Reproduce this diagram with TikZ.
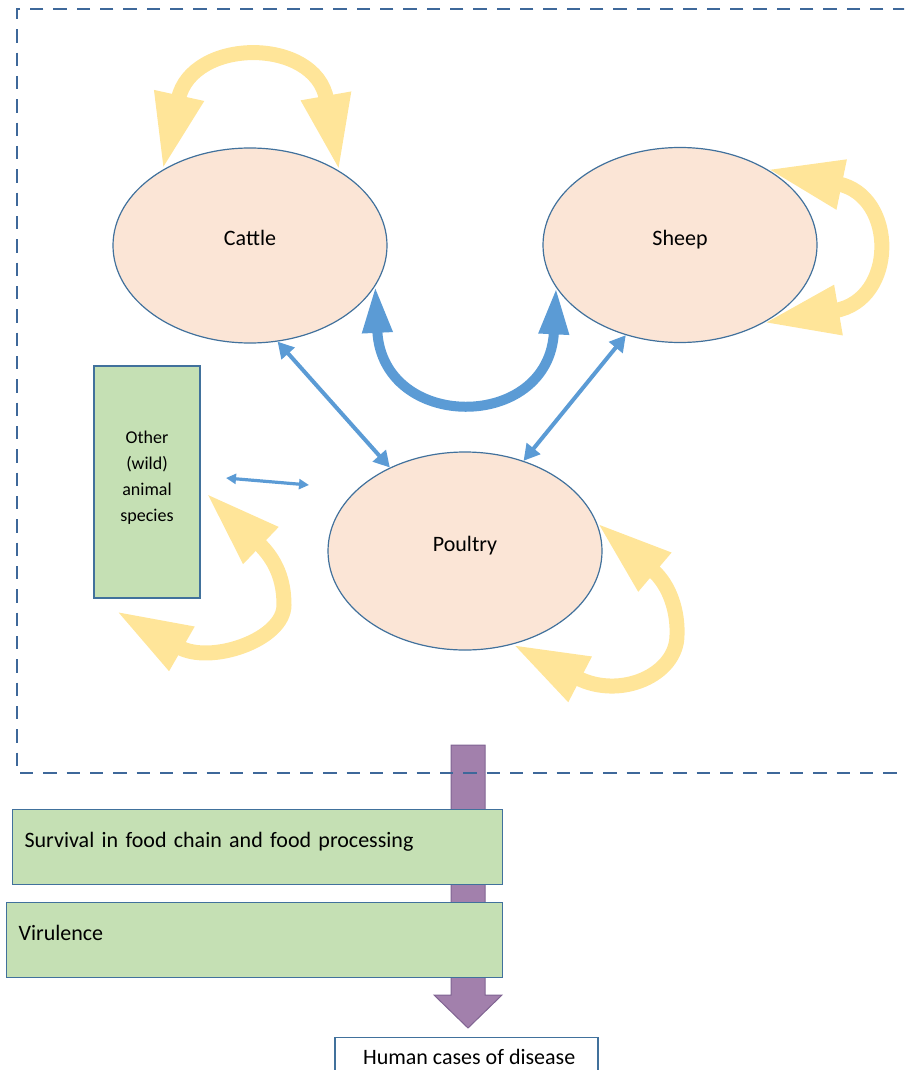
\documentclass[tikz,border=0pt]{standalone}
\usepackage{fontspec}
\setmainfont{Carlito}
\usepackage{xcolor}
\usepackage{tikz}
\usetikzlibrary{shapes, arrows.meta}

\definecolor{shapeblue}{RGB}{65,113,156}
\definecolor{peach}{RGB}{251,229,214}
\definecolor{leafgreen}{RGB}{197,224,180}
\definecolor{goldline}{RGB}{255,229,153}
\definecolor{skyblue}{RGB}{91,155,213}
\definecolor{plum}{RGB}{162,128,172}
\definecolor{plumedge}{RGB}{128,100,146}
\definecolor{boxdash}{RGB}{62,104,154}

\begin{document}
\begin{tikzpicture}[x=0.75pt,y=0.75pt,yscale=-1,xscale=1,
  animal/.style={ellipse, draw=shapeblue, line width=0.9pt, fill=peach, minimum width=205.5pt, minimum height=146.25pt, text height=0.8em, text depth=0.8em, font=\fontsize{16.5}{20}\selectfont},
  factor/.style={rectangle, draw=shapeblue, line width=0.9pt, fill=leafgreen, anchor=north west, inner xsep=9pt, inner ysep=0pt, text height=28.5pt, text depth=27.75pt, align=left, font=\fontsize{16.5}{20}\selectfont},
  loopflow/.style={goldline, line width=11.25pt, {Triangle[width=35pt,length=57pt]}-{Triangle[width=35pt,length=57pt]}},
  crossflow/.style={skyblue, line width=7.5pt, {Triangle[width=21pt,length=35pt]}-{Triangle[width=21pt,length=35pt]}},
  linkflow/.style={skyblue, line width=3pt, {Triangle[width=12.75pt,length=12pt]}-{Triangle[width=12.75pt,length=12pt]}},
  shortflow/.style={skyblue, line width=2.4pt, {Triangle[width=7.5pt,length=7.5pt]}-{Triangle[width=7.5pt,length=7.5pt]}}
]
\path[use as bounding box] (0,0) rectangle (904,1070);
\clip (0,0) rectangle (904,1070);

%Shape: Down Arrow
\draw[draw=plumedge, fill=plum, line width=0.75pt] (451,745) -- (485,745) -- (485,995) -- (502,995) -- (468,1028) -- (434,995) -- (451,995) -- cycle ;

%Shape: Rectangle (dashed frame)
\draw[boxdash, line width=2.2pt, dash pattern=on 10pt off 7.5pt] (930,9) -- (17,9) -- (17,773) -- (930,773) ;

%Shape: Ellipse
\node[animal] (cattle) at (250,245.5) {Cattle};
%Shape: Ellipse
\node[animal] (sheep) at (680,245) {Sheep};
%Shape: Ellipse
\node[animal, minimum height=148.5pt] (poultry) at (465,551) {Poultry};

%Shape: Rectangle
\node[rectangle, draw=shapeblue, line width=0.9pt, fill=leafgreen, minimum width=79.5pt, minimum height=174pt, text width=70pt, align=center, font=\fontsize{13.5}{19.5}\selectfont] (wild) at (147,482) {Other\\(wild)\\animal\\species\\[-11pt]\mbox{}};

%Shape: Rectangle
\node[factor, text width=349.5pt] (survival) at (12,809) {Survival in food chain and food processing};
%Shape: Rectangle
\node[factor, text width=354pt] (virulence) at (6,902) {Virulence};
%Shape: Rectangle
\node[rectangle, draw=shapeblue, line width=0.9pt, fill=white, anchor=north, minimum width=197.25pt, inner ysep=0pt, text height=20.25pt, text depth=40pt, font=\fontsize{16.5}{20}\selectfont] (human) at (466.5,1037) {\hspace*{4pt}Human cases of disease};

\coordinate (wildtop) at (206,493);
\coordinate (wildlow) at (116,611);
\coordinate (shortL) at (226,478);
\coordinate (shortR) at (309,485);

%Curve Lines
\draw[loopflow] (cattle.139) .. controls (192,37) and (315.6,37) .. (cattle.40) ;
%Curve Lines
\draw[loopflow] (sheep.41) .. controls (897,196) and (897,300) .. (sheep.-43) ;
%Curve Lines
\draw[loopflow] (poultry.12) .. controls (670,585) and (678,612) .. (677,635) .. controls (677,675) and (620,700) .. (poultry.-63) ;
%Curve Lines
\draw[loopflow] (wildtop) .. controls (276,560) and (284,580) .. (284,605) .. controls (284,640) and (210,665) .. (wildlow) ;

%Curve Lines
\draw[crossflow] (cattle.-18) .. controls (382,432) and (549,432) .. (sheep.-161) ;

%Straight Lines
\draw[linkflow] (cattle.-74) -- (poultry.132) ;
%Straight Lines
\draw[linkflow] (sheep.-121) -- (poultry.57) ;
%Straight Lines
\draw[shortflow] (shortL) -- (shortR) ;

\end{tikzpicture}
\end{document}
